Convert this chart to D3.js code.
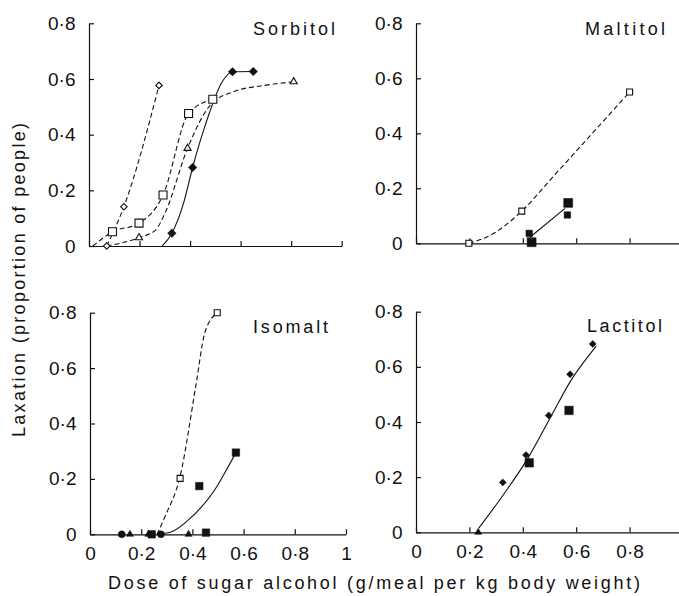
<!DOCTYPE html>
<html>
<head>
<meta charset="utf-8">
<script src="https://cdn.jsdelivr.net/npm/d3@7"></script>
<style>
  body { margin: 0; background: #fff; }
  svg { display: block; font-family: "Liberation Sans", Arial, Helvetica, sans-serif; }
</style>
</head>
<body>
<div id="chart"></div>
<script>
// tick values and labels
var xTicks = [0, 0.2, 0.4, 0.6, 0.8, 1];
var xTickLabels = ["0", "0·2", "0·4", "0·6", "0·8", "1"];
var xTicksRight = [0, 0.2, 0.4, 0.6, 0.8];
var yTicks = [0, 0.2, 0.4, 0.6, 0.8];
var yTickLabels = ["0", "0·2", "0·4", "0·6", "0·8"];

var panelTitles = ["Sorbitol", "Maltitol", "Isomalt", "Lactitol"];
var yTitle = "Laxation (proportion of people)";
var xTitle = "Dose of sugar alcohol (g/meal per kg body weight)";

// Sorbitol: [dose, proportion]
var sorbOpenDiamond = [[0.07, 0], [0.138, 0.141], [0.277, 0.577]];
var sorbOpenSquare = [[0.093, 0.051], [0.198, 0.082], [0.293, 0.183], [0.394, 0.476], [0.49, 0.527]];
var sorbOpenSquareLine = [[0.015, 0], [0.093, 0.051], [0.198, 0.082], [0.293, 0.183], [0.394, 0.476], [0.49, 0.527]];
var sorbOpenTriangle = [[0.198, 0.03], [0.39, 0.351], [0.81, 0.59]];
var sorbOpenTriangleLine = [[0.07, 0], [0.198, 0.03], [0.263, 0.057], [0.303, 0.123], [0.39, 0.351], [0.48, 0.506], [0.571, 0.554], [0.703, 0.578], [0.81, 0.59]];
var sorbFilledDiamond = [[0.328, 0.046], [0.41, 0.282], [0.568, 0.626], [0.65, 0.627]];
var sorbFilledDiamondLine = [[0.29, 0], [0.328, 0.046], [0.374, 0.153], [0.41, 0.282], [0.467, 0.453], [0.527, 0.59], [0.568, 0.626], [0.65, 0.627]];

// Maltitol
var maltOpenSquare = [[0.198, 0], [0.396, 0.117], [0.8, 0.55]];
var maltOpenSquareLine = [[0.198, 0], [0.28, 0.03], [0.396, 0.117], [0.514, 0.243], [0.8, 0.55]];
var maltFilledSquareLarge = [[0.433, 0.004], [0.57, 0.147]];
var maltFilledSquareSmall = [[0.424, 0.036], [0.567, 0.103]];
var maltFilledLine = [[0.427, 0.022], [0.558, 0.127]];

// Isomalt
var isoOpenSquare = [[0.352, 0.202], [0.497, 0.8]];
var isoOpenSquareLine = [[0.262, 0], [0.293, 0.064], [0.352, 0.21], [0.415, 0.545], [0.448, 0.726], [0.497, 0.8]];
var isoFilledSquare = [[0.241, 0], [0.427, 0.174], [0.453, 0.006], [0.57, 0.295]];
var isoFilledLine = [[0.26, 0], [0.316, 0.008], [0.382, 0.05], [0.487, 0.16], [0.547, 0.256], [0.57, 0.295]];
var isoFilledCircle = [[0.124, 0], [0.277, 0]];
var isoFilledTriangle = [[0.156, 0], [0.228, 0], [0.385, 0]];

// Lactitol
var lactFilledDiamond = [[0.325, 0.181], [0.412, 0.28], [0.497, 0.424], [0.577, 0.573], [0.662, 0.683]];
var lactFilledSquare = [[0.424, 0.252], [0.573, 0.442]];
var lactFilledTriangle = [[0.233, 0]];
var lactFilledLine = [[0.235, 0.015], [0.33, 0.14], [0.42, 0.27], [0.5, 0.41], [0.58, 0.55], [0.675, 0.675]];

var width = 679, height = 596;
var ink = "#111";

var panels = [
  {
    title: panelTitles[0], xRange: [89, 341.7], yRange: [246, 23.3], ticks: xTicks, labels: false,
    titlePos: [253, 35, 82],
    lines: [
      {data: sorbOpenDiamond, dash: true},
      {data: sorbOpenSquareLine, dash: true},
      {data: sorbOpenTriangleLine, dash: true},
      {data: sorbFilledDiamondLine, dash: false}
    ],
    marks: [
      {data: sorbOpenDiamond, shape: "diamond", fill: false, size: 6.5},
      {data: sorbOpenSquare, shape: "square", fill: false, size: 8},
      {data: sorbOpenTriangle, shape: "triangle", fill: false, size: 7},
      {data: sorbFilledDiamond, shape: "diamond", fill: true, size: 8.5}
    ]
  },
  {
    title: panelTitles[1], xRange: [416, 683], yRange: [243.3, 23.3], ticks: xTicksRight, labels: false,
    titlePos: [585, 35, 80],
    lines: [
      {data: maltOpenSquareLine, dash: true},
      {data: maltFilledLine, dash: false}
    ],
    marks: [
      {data: maltOpenSquare, shape: "square", fill: false, size: 6},
      {data: maltFilledSquareSmall, shape: "square", fill: true, size: 6.5},
      {data: maltFilledSquareLarge, shape: "square", fill: true, size: 9}
    ]
  },
  {
    title: panelTitles[2], xRange: [90, 346], yRange: [534.3, 312.7], ticks: xTicks, labels: true,
    titlePos: [253, 333, 75],
    lines: [
      {data: isoOpenSquareLine, dash: true},
      {data: isoFilledLine, dash: false}
    ],
    marks: [
      {data: isoOpenSquare, shape: "square", fill: false, size: 6},
      {data: isoFilledSquare, shape: "square", fill: true, size: 7.5},
      {data: isoFilledCircle, shape: "circle", fill: true, size: 7},
      {data: isoFilledTriangle, shape: "triangle", fill: true, size: 7}
    ]
  },
  {
    title: panelTitles[3], xRange: [416, 683], yRange: [532.3, 311.7], ticks: xTicksRight, labels: true,
    titlePos: [587, 332, 75],
    lines: [
      {data: lactFilledLine, dash: false}
    ],
    marks: [
      {data: lactFilledDiamond, shape: "diamond", fill: true, size: 7},
      {data: lactFilledSquare, shape: "square", fill: true, size: 8.5},
      {data: lactFilledTriangle, shape: "triangle", fill: true, size: 7}
    ]
  }
];

var svg = d3.select("#chart").append("svg")
  .attr("width", width)
  .attr("height", height);

function markerPath(shape, s) {
  if (shape === "square") return d3.symbol(d3.symbolSquare, s * s)();
  if (shape === "diamond") return d3.symbol(d3.symbolSquare, s * s / 2)();
  if (shape === "circle") return d3.symbol(d3.symbolCircle, Math.PI * s * s / 4)();
  return d3.symbol(d3.symbolTriangle, s * s * 0.45)();
}

function drawPanel(p) {
  var x = d3.scaleLinear().domain([0, 1]).range(p.xRange);
  var y = d3.scaleLinear().domain([0, 0.8]).range(p.yRange);
  var g = svg.append("g");

  var xAxis = d3.axisBottom(x)
    .tickValues(p.ticks)
    .tickSizeInner(-5)
    .tickSizeOuter(0)
    .tickPadding(12)
    .tickFormat(function(d, i) { return p.labels ? xTickLabels[i] : ""; });

  var yAxis = d3.axisLeft(y)
    .tickValues(yTicks)
    .tickSizeInner(-5)
    .tickSizeOuter(0)
    .tickPadding(13.5)
    .tickFormat(function(d, i) { return yTickLabels[i]; });

  g.append("g")
    .attr("transform", "translate(0," + p.yRange[0] + ")")
    .call(xAxis);
  g.append("g")
    .attr("transform", "translate(" + p.xRange[0] + ",0)")
    .call(yAxis);

  g.selectAll(".domain, .tick line")
    .attr("stroke", ink)
    .attr("stroke-width", 1.2);
  g.selectAll(".tick text")
    .attr("fill", ink)
    .style("font-size", "19px")
    .style("font-family", "'Liberation Sans', Arial, sans-serif");

  var line = d3.line()
    .x(function(d) { return x(d[0]); })
    .y(function(d) { return y(d[1]); })
    .curve(d3.curveMonotoneX);

  p.lines.forEach(function(l) {
    g.append("path")
      .attr("d", line(l.data))
      .attr("fill", "none")
      .attr("stroke", ink)
      .attr("stroke-width", 1.1)
      .attr("stroke-dasharray", l.dash ? "5,3" : null);
  });

  p.marks.forEach(function(m) {
    g.selectAll(null)
      .data(m.data)
      .enter().append("path")
      .attr("d", markerPath(m.shape, m.size))
      .attr("transform", function(d) {
        return "translate(" + x(d[0]) + "," + y(d[1]) + ")" + (m.shape === "diamond" ? " rotate(45)" : "");
      })
      .attr("fill", m.fill ? ink : "#fff")
      .attr("stroke", ink)
      .attr("stroke-width", m.fill ? 0.5 : 1.1);
  });

  g.append("text")
    .attr("x", p.titlePos[0])
    .attr("y", p.titlePos[1])
    .attr("textLength", p.titlePos[2])
    .attr("lengthAdjust", "spacing")
    .attr("fill", ink)
    .style("font-size", "18px")
    .text(p.title);
}

panels.forEach(drawPanel);

svg.append("text")
  .attr("transform", "translate(24.5,280) rotate(-90)")
  .attr("text-anchor", "middle")
  .attr("textLength", 314)
  .attr("lengthAdjust", "spacing")
  .attr("fill", ink)
  .style("font-size", "18px")
  .text(yTitle);

svg.append("text")
  .attr("x", 374)
  .attr("y", 589)
  .attr("text-anchor", "middle")
  .attr("textLength", 532)
  .attr("lengthAdjust", "spacing")
  .attr("fill", ink)
  .style("font-size", "18px")
  .text(xTitle);
</script>
</body>
</html>
